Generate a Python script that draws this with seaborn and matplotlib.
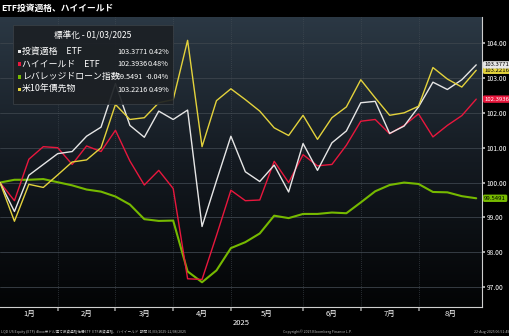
import numpy as np
import pandas as pd
import matplotlib
matplotlib.use("Agg")
import matplotlib.pyplot as plt
from matplotlib.colors import LinearSegmentedColormap
from matplotlib.patches import Rectangle
import seaborn as sns

# ---------------- data ----------------
dates = pd.date_range("2025-01-03", periods=34, freq="7D")

ig_etf = [100.0, 99.17, 100.21, 100.52, 100.83, 100.89, 101.33, 101.59, 102.84, 101.64,
          101.30, 102.05, 101.81, 102.08, 98.74, 100.05, 101.33, 100.31, 100.03, 100.50,
          99.73, 101.12, 100.35, 101.14, 101.48, 102.29, 102.33, 101.41, 101.62, 102.17,
          102.88, 102.67, 102.95, 103.3771]
hy_etf = [100.0, 99.48, 100.67, 101.03, 101.00, 100.52, 101.05, 100.89, 101.50, 100.62,
          99.93, 100.35, 99.83, 97.24, 97.22, 98.48, 99.78, 99.48, 99.50, 100.61,
          100.00, 100.80, 100.48, 100.52, 101.07, 101.76, 101.81, 101.40, 101.64, 101.97,
          101.31, 101.64, 101.92, 102.3936]
loan_idx = [100.0, 100.08, 100.08, 100.10, 100.01, 99.92, 99.80, 99.74, 99.60, 99.37,
            98.95, 98.90, 98.91, 97.45, 97.14, 97.48, 98.12, 98.29, 98.54, 99.05,
            98.98, 99.10, 99.10, 99.14, 99.12, 99.43, 99.75, 99.93, 100.00, 99.96,
            99.73, 99.72, 99.61, 99.5491]
ust10 = [100.0, 98.89, 99.95, 99.86, 100.22, 100.59, 100.65, 101.00, 102.24, 101.81,
         101.86, 102.29, 102.38, 104.08, 101.03, 102.35, 102.69, 102.38, 102.05, 101.57,
         101.35, 101.93, 101.24, 101.86, 102.17, 102.95, 102.43, 101.93, 102.00, 102.19,
         103.30, 102.97, 102.74, 103.2216]

series_names = ["投資適格　ETF", "ハイイールド　ETF", "レバレッジドローン指数", "米10年債先物"]
series_keys = ["ig", "hy", "loan", "ust"]
last_values = ["103.3771", "102.3936", "99.5491", "103.2216"]
pct_changes = ["0.42%", "0.48%", "-0.04%", "0.49%"]
colors = ["#e6e6e6", "#e8173d", "#76b900", "#e3d23c"]
label_text_colors = ["#000000", "#ffffff", "#000000", "#000000"]

month_labels = ["1月", "2月", "3月", "4月", "5月", "6月", "7月", "8月"]
grid_dates = pd.to_datetime(["2025-01-31", "2025-02-28", "2025-03-28", "2025-04-25",
                             "2025-05-30", "2025-06-27", "2025-07-25"])
yticks = [97, 98, 99, 100, 101, 102, 103, 104]

title = "ETF投資適格、ハイイールド"
legend_title = "標準化 - 01/03/2025"

# ---------------- style ----------------
sns.set_theme(style="dark")
plt.rcParams["font.family"] = ["Noto Sans CJK JP", "DejaVu Sans"]

W, H = 510, 336
fig = plt.figure(figsize=(W / 100, H / 100), dpi=100, facecolor="black")
ax = fig.add_axes([0, 1 - 307 / H, 482 / W, (307 - 17) / H])

x0 = dates[0]
x1 = dates[0] + pd.Timedelta(days=233.8)
ax.set_xlim(x0, x1)
ax.set_ylim(96.43, 104.75)

# gradient background
cmap = LinearSegmentedColormap.from_list("bg", ["#030405", "#141a21", "#2b3844"])
grad = np.linspace(0, 1, 256).reshape(-1, 1)
ax.imshow(grad, aspect="auto", cmap=cmap, origin="lower",
          extent=[0, 1, 0, 1], transform=ax.transAxes, zorder=0)
ax.set_facecolor("black")

df = pd.DataFrame({
    "date": np.tile(dates, 4),
    "value": ig_etf + hy_etf + loan_idx + ust10,
    "series": np.repeat(series_keys, len(dates)),
})
plot_order = ["loan", "hy", "ig", "ust"]
palette = dict(zip(series_keys, colors))
for key in plot_order:
    sub = df[df["series"] == key]
    sns.lineplot(data=sub, x="date", y="value", color=palette[key],
                 lw=1.5 if key == "loan" else 1.0, ax=ax, legend=False, zorder=3)

# grids
for yv in yticks:
    ax.axhline(yv, color="#3c444c", lw=0.6, zorder=1)
for gd in grid_dates:
    ax.axvline(gd, color="#4a525a", lw=0.5, ls=(0, (1, 2)), zorder=1)
ax.grid(False)

# x axis
ax.set_xticks(grid_dates)
ax.set_xticklabels([])
bounds = [x0] + list(grid_dates) + [x1]
mids = [bounds[i] + (bounds[i + 1] - bounds[i]) / 2 for i in range(len(bounds) - 1)]
ax.set_xticks(mids, minor=True)
ax.set_xticklabels(month_labels, minor=True)
ax.tick_params(axis="x", which="major", length=3, color="#8a8a8a", direction="out", bottom=True)
ax.tick_params(axis="x", which="minor", length=0, labelsize=5.5, labelcolor="white", pad=2, bottom=True)
ax.set_xlabel("2025", color="white", fontsize=5.5, labelpad=1)

# y axis right
ax.yaxis.tick_right()
ax.set_yticks(yticks)
ax.set_yticklabels([f"{v:.2f}" for v in yticks])
ax.tick_params(axis="y", which="major", length=2, color="#bbbbbb", direction="out",
               labelsize=4.8, labelcolor="white", pad=1.5, right=True, left=False)
ax.set_ylabel("")

for s in ["top", "left"]:
    ax.spines[s].set_visible(False)
ax.spines["right"].set_color("#cfcfcf")
ax.spines["right"].set_linewidth(0.8)
ax.spines["bottom"].set_color("#cfcfcf")
ax.spines["bottom"].set_linewidth(0.8)

# end value labels
end_order = [2, 1, 3, 0]
final_vals = [ig_etf[-1], hy_etf[-1], loan_idx[-1], ust10[-1]]
for i in end_order:
    ax.annotate(last_values[i], xy=(1.0, final_vals[i]), xycoords=("axes fraction", "data"),
                xytext=(1.6, 0), textcoords="offset points", va="center", ha="left",
                fontsize=4.3, color=label_text_colors[i], zorder=10, annotation_clip=False,
                bbox=dict(boxstyle="round,pad=0.2,rounding_size=0.25", fc=colors[i], ec="none"))

# title
fig.text(1 / W, 1 - 8 / H, title, color="white", fontsize=6.3, fontweight="bold",
         ha="left", va="center")

# legend box
def fx(px):
    return px / W

def fy(py):
    return 1 - py / H

fig.patches.append(Rectangle((fx(13), fy(104)), fx(173) - fx(13), fy(25) - fy(104),
                             transform=fig.transFigure, fc="#1c2024", ec="#3a4046",
                             lw=0.6, alpha=0.92, zorder=5))
fig.text(fx(93), fy(36), legend_title, color="white", fontsize=6.2, ha="center",
         va="center", zorder=6)
row_y = [51.5, 64, 77, 89.5]
for i in range(4):
    fig.patches.append(Rectangle((fx(17.5), fy(row_y[i] + 1.8)), fx(3.5), 3.5 / H,
                                 transform=fig.transFigure, fc=colors[i], ec="none", zorder=6))
    fig.text(fx(22), fy(row_y[i]), series_names[i], color="white", fontsize=6.4,
             ha="left", va="center", zorder=6)
    fig.text(fx(117), fy(row_y[i]), last_values[i], color="white", fontsize=5.2,
             ha="left", va="center", zorder=6)
    fig.text(fx(169), fy(row_y[i]), pct_changes[i], color="white", fontsize=5.2,
             ha="right", va="center", zorder=6)

# footer
fig.text(fx(1), fy(332), "LQD US Equity (ETF) iBoxx米ドル建て投資適格社債ETF  ETF投資適格、ハイイールド  期間 01/03/2025-22/08/2025",
         color="#bbbbbb", fontsize=2.6, ha="left", va="center")
fig.text(fx(318), fy(332), "Copyright© 2025 Bloomberg Finance L.P.", color="#bbbbbb",
         fontsize=2.6, ha="center", va="center")
fig.text(fx(509), fy(332), "22-Aug-2025 06:51:49", color="#bbbbbb", fontsize=2.6,
         ha="right", va="center")

fig.savefig("out.png", dpi=100, facecolor="black")
